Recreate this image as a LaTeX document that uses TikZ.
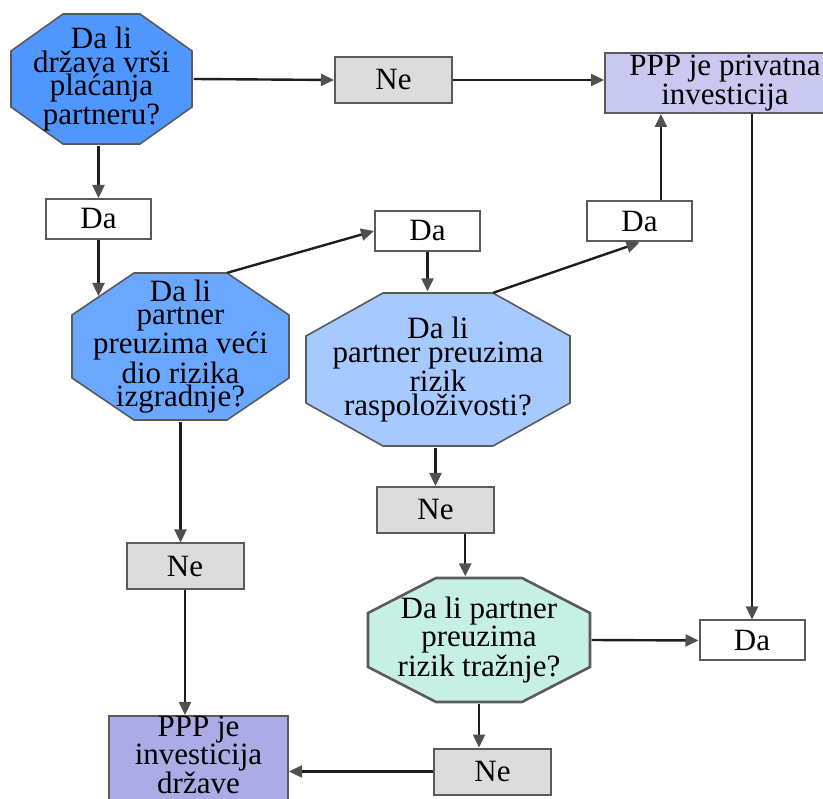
\documentclass[tikz,border=0pt]{standalone}
\usepackage{fontspec}
\setmainfont{Liberation Serif}
\usetikzlibrary{arrows.meta,calc}

\definecolor{boxgray}{HTML}{5A5A5A}
\definecolor{linegray}{HTML}{1E1E1E}
\definecolor{tipgray}{HTML}{505050}
\definecolor{negray}{HTML}{DCDCDC}
\definecolor{qblue}{HTML}{5096FF}
\definecolor{qbluemid}{HTML}{6AA8FF}
\definecolor{qbluelight}{HTML}{A6C9FF}
\definecolor{qmint}{HTML}{C6EFE6}
\definecolor{pppprivate}{HTML}{C8C8F0}
\definecolor{pppstate}{HTML}{ABABE6}

% osmougao unutar okvira cvora (kosina #1 x #2)
\newcommand{\octpath}[2]{%
  ([xshift=#1pt+1.5pt,yshift=-1.5pt]path picture bounding box.north west) --
  ([xshift=-#1pt-1.5pt,yshift=-1.5pt]path picture bounding box.north east) --
  ([xshift=-1.5pt,yshift=-#2pt-1.5pt]path picture bounding box.north east) --
  ([xshift=-1.5pt,yshift=#2pt+1.5pt]path picture bounding box.south east) --
  ([xshift=-#1pt-1.5pt,yshift=1.5pt]path picture bounding box.south east) --
  ([xshift=#1pt+1.5pt,yshift=1.5pt]path picture bounding box.south west) --
  ([xshift=1.5pt,yshift=#2pt+1.5pt]path picture bounding box.south west) --
  ([xshift=1.5pt,yshift=-#2pt-1.5pt]path picture bounding box.north west) -- cycle}

\begin{document}
\begin{tikzpicture}[
  x=1pt, y=-1pt,
  font=\fontsize{31}{23.5}\selectfont,
  box/.style={rectangle, draw=boxgray, line width=2pt, inner sep=0pt, align=center},
  nebox/.style={box, fill=negray, minimum width=117pt, minimum height=46pt},
  dabox/.style={box, fill=white, minimum width=105pt, minimum height=40pt},
  question/.style n args={4}{rectangle, inner sep=0pt, align=center,
    path picture={\draw[draw=boxgray, line width=#4, fill=#1] \octpath{#2}{#3};}},
  link/.style={line width=2.4pt, draw=linegray, -{Triangle[length=13pt,width=12pt,color=tipgray]}}
]
  \useasboundingbox (0,0) rectangle (823,799);
  \clip (0,0) rectangle (823,799);

  % Pitanja
  \node[question={qblue}{52}{37}{1.6pt}, minimum width=184pt, minimum height=133pt]
        (q1) at (101.5,79) {Da li\\država vrši\\plaćanja\\partneru?};
  \node[question={qbluemid}{62}{42}{1.6pt}, minimum width=220pt, minimum height=150pt]
        (q2) at (180.5,346.5) {Da li\\partner\\preuzima veći\\dio rizika\\izgradnje?};
  \node[question={qbluelight}{77}{43}{1.6pt}, minimum width=267pt, minimum height=156pt]
        (q3) at (438,369.5) {Da li\\partner preuzima\\rizik\\raspoloživosti?};
  \node[question={qmint}{68}{35}{2.6pt}, minimum width=225pt, minimum height=127pt]
        (q4) at (479,640) {Da li partner\\preuzima\\rizik tražnje?};

  % Odgovori
  \node[nebox] (ne1) at (393.5,80) {Ne};
  \node[nebox] (ne2) at (185,566.5) {Ne};
  \node[nebox] (ne3) at (435.5,510) {Ne};
  \node[nebox] (ne4) at (492.5,771.5) {Ne};
  \node[dabox] (da1) at (98.5,219) {Da};
  \node[dabox] (da2) at (427.5,231) {Da};
  \node[dabox] (da3) at (639.5,221.5) {Da};
  \node[dabox] (da4) at (752,640.5) {Da};

  % Ishodi
  \node[box, fill=pppprivate, minimum width=240pt, minimum height=60pt]
        (ppp1) at (725,83) {PPP je privatna\\investicija};
  \node[box, fill=pppstate, minimum width=179pt, minimum height=86pt, text depth=8pt]
        (ppp2) at (198.5,759) {PPP je\\investicija\\države};

  % Tacke na kosim stranama
  \coordinate (q2in) at (98.5,296);
  \coordinate (q2out) at ([xshift=-63.5pt,yshift=-1.5pt]q2.north east);
  \coordinate (q3out) at ([xshift=-78.5pt,yshift=-1.5pt]q3.north east);
  \coordinate (da3up) at ($(da3.north)!0.4!(da3.north east)$);
  \coordinate (ne3down) at ($(ne3.south)!0.5!(ne3.south east)$);

  % Veze
  \draw[link] (q1.east) -- (ne1.west);
  \draw[link] (ne1.east) -- (ne1.east -| ppp1.west);
  \draw[link] (q1.south -| da1.north) -- (da1.north);
  \draw[link] (da1.south) -- (q2in);
  \draw[link] (q2out) -- (da2.west);
  \draw[link] (da2.south) -- (da2.south |- q3.north);
  \draw[link] (q3out) -- (da3.south);
  \draw[link] (da3up) -- (da3up |- ppp1.south);
  \draw[link] (da4.north |- ppp1.south) -- (da4.north);
  \draw[link] (q2.south) -- (q2.south |- ne2.north);
  \draw[link] (ne2.south) -- (ne2.south |- ppp2.north);
  \draw[link] (ne3.north |- q3.south) -- (ne3.north);
  \draw[link] (ne3down) -- (ne3down |- q4.north);
  \draw[link] (q4.east) -- (da4.west);
  \draw[link] (q4.south) -- (q4.south |- ne4.north);
  \draw[link] (ne4.west) -- (ne4.west -| ppp2.east);

\end{tikzpicture}
\end{document}
